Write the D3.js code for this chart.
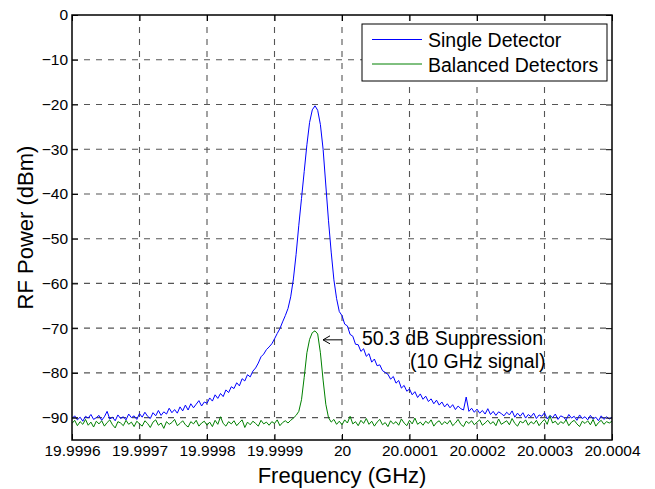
<!DOCTYPE html>
<html>
<head>
<meta charset="utf-8">
<script src="https://cdn.jsdelivr.net/npm/d3@7"></script>
<style>
	body { margin: 0; background: #fff; }
	svg, svg text { font-family: 'Liberation Sans', Arial, sans-serif; }
</style>
</head>
<body>
<svg></svg>
<script>
// spectrum analyser sweep: 201 points from 19.9996 GHz, 4 kHz apart
const sweepStart = 19.9996,
	sweepStep = 0.000004;

// RF power (dBm)
const singleDetector = [
	-90.2, -89.6, -90.5, -89.9, -90.8, -89.7, -90.1, -89.3, -90.4, -90.0,
	-89.5, -90.6, -89.8, -88.6, -90.3, -89.9, -90.7, -89.4, -90.2, -89.8,
	-90.5, -89.2, -90.0, -89.6, -90.4, -89.1, -89.9, -88.8, -89.7, -90.2,
	-88.9, -89.6, -88.4, -89.5, -88.7, -89.2, -87.9, -88.9, -88.2, -89.0,
	-87.6, -88.5, -87.2, -88.3, -86.9, -87.8, -87.0, -86.2, -87.4, -86.5,
	-86.8, -85.6, -86.3, -84.9, -85.7, -84.6, -85.3, -83.8, -84.4, -83.1,
	-83.5, -82.2, -82.9, -81.3, -81.8, -80.4, -80.9, -79.6, -78.9, -77.8,
	-76.4, -75.8, -74.8, -74.2, -73.5, -72.4, -71.2, -70.1, -68.6, -67.2,
	-65.6, -63.0, -59.0, -53.5, -47.0, -41.0, -35.0, -29.0, -24.0, -21.2,
	-20.3, -21.3, -24.5, -30.0, -38.0, -46.0, -53.0, -59.2, -63.4, -66.3,
	-67.2, -69.1, -69.5, -71.4, -71.8, -73.6, -73.7, -75.2, -74.6, -76.3,
	-75.7, -77.6, -76.9, -78.4, -78.2, -79.5, -79.9, -80.3, -81.4, -80.8,
	-82.3, -81.7, -83.4, -82.8, -84.1, -83.6, -84.9, -84.2, -85.5, -84.7,
	-85.9, -85.2, -86.4, -85.8, -86.9, -86.1, -87.2, -86.5, -87.6, -86.9,
	-87.8, -87.1, -88.2, -87.4, -88.0, -88.3, -85.4, -88.6, -87.9, -88.8,
	-88.1, -89.0, -88.4, -89.2, -88.0, -89.3, -88.6, -89.5, -88.7, -89.1,
	-89.6, -88.8, -89.4, -88.5, -89.9, -89.0, -89.7, -88.9, -90.1, -89.3,
	-89.8, -89.0, -90.2, -89.4, -89.7, -88.9, -90.3, -89.5, -90.0, -89.2,
	-90.4, -89.6, -89.9, -90.5, -89.3, -90.1, -89.7, -90.6, -89.4, -90.2,
	-89.8, -90.5, -89.5, -90.3, -89.9, -90.7, -89.6, -90.4, -89.8, -90.3,
	-89.9
];

const balancedDetectors = [
	-91.3, -90.6, -91.8, -90.9, -91.5, -90.4, -91.7, -91.0, -92.1, -90.8,
	-91.4, -90.7, -91.9, -91.1, -90.5, -91.6, -92.3, -90.9, -91.2, -91.8,
	-90.6, -91.5, -91.0, -92.0, -90.8, -91.4, -91.9, -90.7, -91.3, -92.2,
	-91.0, -90.5, -91.7, -91.2, -92.4, -90.9, -91.5, -91.1, -90.4, -91.8,
	-91.3, -90.7, -91.6, -92.1, -90.9, -91.4, -90.6, -91.9, -91.2, -90.8,
	-91.7, -91.0, -92.0, -90.6, -91.5, -89.8, -91.3, -91.9, -90.9, -91.4,
	-90.7, -91.8, -91.1, -90.5, -92.2, -91.0, -91.6, -90.8, -91.3, -91.9,
	-90.6, -91.4, -91.0, -91.7, -90.9, -91.3, -90.5, -91.8, -91.1, -90.7,
	-91.2, -90.6, -90.1, -89.5, -88.6, -86.0, -81.0, -75.5, -72.5, -71.0,
	-70.6, -71.3, -75.5, -81.6, -87.0, -90.0, -91.0, -90.4, -91.5, -90.8,
	-91.6, -90.5, -91.2, -89.7, -91.4, -90.9, -91.8, -90.6, -91.3, -90.2,
	-91.5, -90.8, -91.9, -91.0, -90.4, -91.6, -91.1, -92.0, -90.7, -91.4,
	-90.9, -91.7, -90.3, -91.2, -91.8, -90.6, -91.4, -90.1, -91.5, -91.0,
	-91.7, -90.8, -91.3, -90.5, -91.9, -91.1, -90.7, -91.6, -90.9, -91.4,
	-90.6, -91.8, -91.2, -90.4, -91.5, -92.0, -90.8, -91.3, -90.7, -91.6,
	-91.0, -90.5, -91.7, -91.2, -90.6, -91.4, -90.9, -91.8, -90.3, -91.5,
	-91.1, -90.7, -91.6, -90.2, -91.3, -91.9, -90.8, -91.2, -90.5, -91.7,
	-90.9, -91.4, -90.6, -91.8, -91.0, -90.4, -91.5, -89.6, -91.2, -90.8,
	-91.6, -90.9, -91.3, -90.5, -91.8, -91.0, -90.6, -91.4, -92.0, -90.8,
	-91.3, -90.7, -91.6, -90.4, -91.9, -91.1, -90.6, -91.5, -90.9, -91.2,
	-90.8
];

const seriesNames = ['Single Detector', 'Balanced Detectors'];
const seriesColors = ['#0000ff', '#008000'];

const xTicks = [19.9996, 19.9997, 19.9998, 19.9999, 20, 20.0001, 20.0002, 20.0003, 20.0004];
const xTickLabels = ['19.9996', '19.9997', '19.9998', '19.9999', '20', '20.0001', '20.0002', '20.0003', '20.0004'];
const yTicks = [0, -10, -20, -30, -40, -50, -60, -70, -80, -90];

// annotation at the balanced peak
const noteFreq = 19.99996,
	noteLevel = -70.6,
	noteLines = ['50.3 dB Suppression', '(10 GHz signal)'];

const fontFamily = "'Liberation Sans', Arial, sans-serif";

const svg = d3.select('svg')
	.attr('width', 655)
	.attr('height', 489);

const width = +svg.attr('width'),
	height = +svg.attr('height');

const margin = { top: 15, right: 43, bottom: 49, left: 72 },
	innerWidth = width - margin.left - margin.right,
	innerHeight = height - margin.top - margin.bottom;

const toPoints = values => values.map((v, i) => ({ f: sweepStart + i * sweepStep, p: v }));
const series = [singleDetector, balancedDetectors].map(toPoints);

const xScale = d3.scaleLinear()
	.domain([19.9996, 20.0004])
	.range([0, innerWidth]);

const yScale = d3.scaleLinear()
	.domain([-95, 0])
	.range([innerHeight, 0]);

const g = svg.append('g')
	.attr('transform', `translate(${margin.left}, ${margin.top})`);

g.append('clipPath').attr('id', 'plot-clip')
	.append('rect')
	.attr('width', innerWidth)
	.attr('height', innerHeight);

// grid
const gridStyle = sel => sel
	.attr('stroke', '#555')
	.attr('stroke-width', 1.1)
	.attr('stroke-dasharray', '6,6');

g.append('g').selectAll('line')
	.data(xTicks.slice(1, -1))
	.join('line')
	.attr('x1', d => xScale(d)).attr('x2', d => xScale(d))
	.attr('y1', 0).attr('y2', innerHeight)
	.call(gridStyle);

g.append('g').selectAll('line')
	.data(yTicks.filter(d => d !== 0))
	.join('line')
	.attr('x1', 0).attr('x2', innerWidth)
	.attr('y1', d => yScale(d)).attr('y2', d => yScale(d))
	.call(gridStyle);

// traces
const lineGenerator = d3.line()
	.x(d => xScale(d.f))
	.y(d => yScale(d.p));

g.append('g')
	.attr('clip-path', 'url(#plot-clip)')
	.selectAll('path')
	.data(series)
	.join('path')
	.attr('fill', 'none')
	.attr('stroke', (d, i) => seriesColors[i])
	.attr('stroke-width', 1)
	.attr('d', lineGenerator);

// axes, ticks pointing inward like MATLAB
const tickFont = sel => sel
	.attr('font-family', fontFamily)
	.attr('font-size', 15.5)
	.selectAll('text')
	.attr('fill', '#000');

const xAxisG = g.append('g')
	.attr('transform', `translate(0, ${innerHeight})`)
	.call(d3.axisBottom(xScale)
		.tickValues(xTicks)
		.tickFormat((d, i) => xTickLabels[i])
		.tickSize(-6)
		.tickPadding(5));
xAxisG.call(tickFont);

const yAxisG = g.append('g')
	.call(d3.axisLeft(yScale)
		.tickValues(yTicks)
		.tickSize(-6)
		.tickPadding(4));
yAxisG.call(tickFont);

const topAxisG = g.append('g')
	.call(d3.axisTop(xScale).tickValues(xTicks).tickSize(-6));
const rightAxisG = g.append('g')
	.attr('transform', `translate(${innerWidth}, 0)`)
	.call(d3.axisRight(yScale).tickValues(yTicks).tickSize(-6));
topAxisG.selectAll('text').remove();
rightAxisG.selectAll('text').remove();

g.selectAll('.domain').remove();
g.selectAll('.tick line').attr('stroke', '#000');

g.append('rect')
	.attr('width', innerWidth)
	.attr('height', innerHeight)
	.attr('fill', 'none')
	.attr('stroke', '#000')
	.attr('stroke-width', 1.5);

// axis labels
g.append('text')
	.attr('x', innerWidth / 2)
	.attr('y', innerHeight + 43)
	.attr('text-anchor', 'middle')
	.attr('font-size', 22)
	.text('Frequency (GHz)');

g.append('text')
	.attr('transform', 'rotate(-90)')
	.attr('x', -innerHeight / 2)
	.attr('y', -39)
	.attr('text-anchor', 'middle')
	.attr('font-size', 22)
	.text('RF Power (dBm)');

// legend
const legend = g.append('g')
	.attr('transform', `translate(${innerWidth - 250}, 9)`);

legend.append('rect')
	.attr('width', 245)
	.attr('height', 57)
	.attr('fill', '#fff')
	.attr('stroke', '#000')
	.attr('stroke-width', 1);

seriesNames.forEach((name, i) => {
	const row = legend.append('g')
		.attr('transform', `translate(0, ${15.5 + i * 24.5})`);
	row.append('line')
		.attr('x1', 10).attr('x2', 60)
		.attr('stroke', seriesColors[i])
		.attr('stroke-width', 1);
	row.append('text')
		.attr('x', 66)
		.attr('y', 7.5)
		.attr('font-size', 19.5)
		.text(name);
});

// annotation
const ax = xScale(noteFreq),
	ay = yScale(noteLevel) + 9;

g.append('path')
	.attr('d', `M${ax + 27},${ay}H${ax + 8}M${ax + 15},${ay - 4}L${ax + 8},${ay}L${ax + 15},${ay + 4}`)
	.attr('fill', 'none')
	.attr('stroke', '#000')
	.attr('stroke-width', 1);

g.append('text')
	.attr('x', ax + 47)
	.attr('y', ay + 5)
	.attr('font-size', 19.5)
	.text(noteLines[0]);

g.append('text')
	.attr('x', ax + 95)
	.attr('y', ay + 28)
	.attr('font-size', 19.5)
	.text(noteLines[1]);
</script>
</body>
</html>
